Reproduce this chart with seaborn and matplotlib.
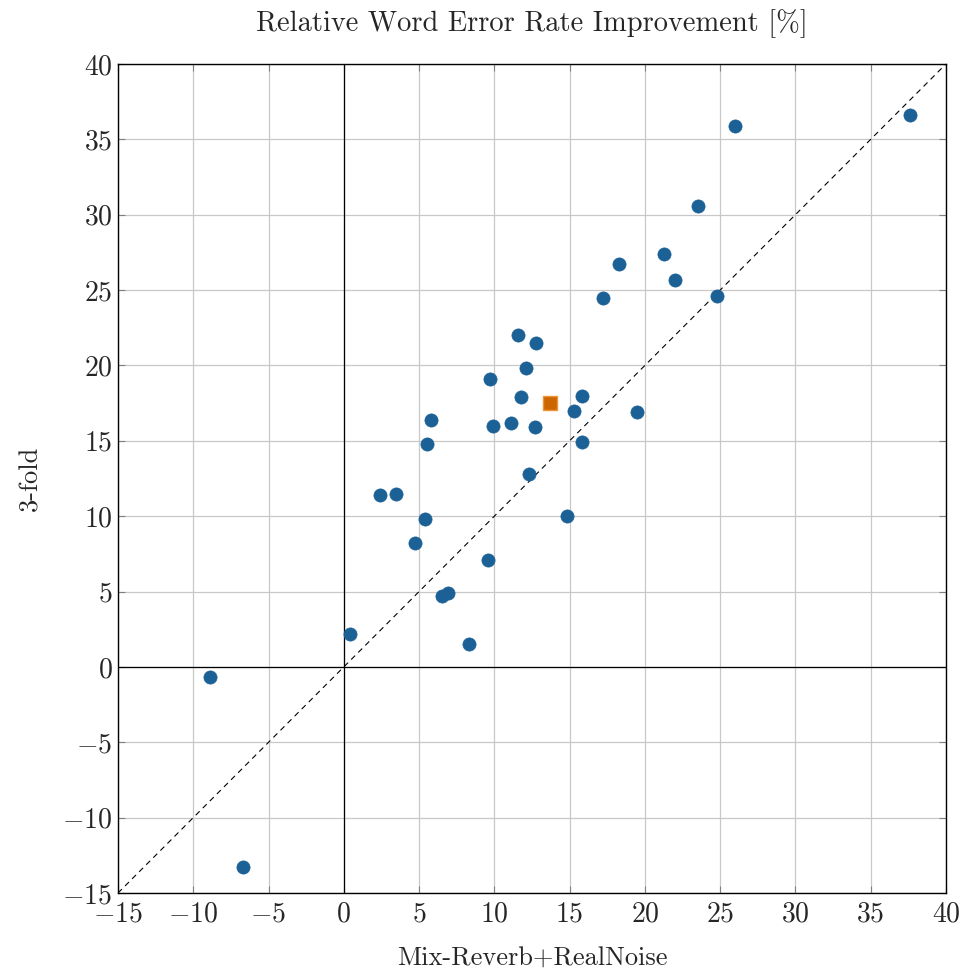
import matplotlib
matplotlib.use("Agg")
import matplotlib.pyplot as plt
import seaborn as sns
import pandas as pd

# relative WER improvement per test set [%]
mix_reverb = [-8.9, -6.7, 0.4, 2.4, 3.5, 4.7, 5.4, 5.5, 5.8, 6.5, 6.9, 8.3,
              9.6, 9.7, 9.9, 11.1, 11.6, 11.8, 12.1, 12.3, 12.7, 12.8, 14.8,
              15.3, 15.8, 15.8, 17.2, 18.3, 19.5, 21.3, 22.0, 23.5, 24.8,
              26.0, 37.6]
three_fold = [-0.7, -13.3, 2.2, 11.4, 11.5, 8.2, 9.8, 14.8, 16.4, 4.7, 4.9, 1.5,
              7.1, 19.1, 16.0, 16.2, 22.0, 17.9, 19.8, 12.8, 15.9, 21.5, 10.0,
              17.0, 18.0, 14.9, 24.5, 26.7, 16.9, 27.4, 25.7, 30.6, 24.6,
              35.9, 36.6]
avg_x = [13.7]
avg_y = [17.5]

ticks = [-15, -10, -5, 0, 5, 10, 15, 20, 25, 30, 35, 40]


def main():
    sns.set_style("whitegrid")
    plt.rcParams['font.family'] = ['cmr10']
    plt.rcParams['mathtext.fontset'] = 'cm'
    plt.rcParams['axes.formatter.use_mathtext'] = True
    plt.rcParams['font.size'] = 20

    points = pd.DataFrame({"x": mix_reverb, "y": three_fold})
    avg = pd.DataFrame({"x": avg_x, "y": avg_y})

    fig = plt.figure(figsize=(9.63, 9.71), dpi=100)
    ax = fig.add_axes([0.1225, 0.0803, 0.8598, 0.8538])

    ax.plot([-15, 40], [-15, 40], color="black", linestyle=(0, (5, 4)),
            linewidth=0.8, zorder=2)
    ax.axhline(0, color="black", linewidth=0.9, zorder=2)
    ax.axvline(0, color="black", linewidth=0.9, zorder=2)

    sns.scatterplot(x="x", y="y", data=points, color="#1b6196", s=90,
                    edgecolor="#1b6196", linewidth=0.5, zorder=3, ax=ax)
    sns.scatterplot(x="x", y="y", data=avg, color="#cc6600", marker="s",
                    s=95, edgecolor="#f0953a", linewidth=1.0, zorder=4, ax=ax)

    ax.set_xlim(-15, 40)
    ax.set_ylim(-15, 40)
    ax.set_xticks(ticks)
    ax.set_yticks(ticks)
    ax.grid(True, color="#c8c8c8", linewidth=0.9)
    ax.tick_params(axis='both', which='major', direction='in', length=5,
                   width=0.8, color="#808080", labelsize=20, pad=4,
                   top=True, right=True, bottom=True, left=True)
    ax.tick_params(axis='x', pad=6)
    for spine in ax.spines.values():
        spine.set_color("black")
        spine.set_linewidth(1.0)

    ax.set_title("Relative Word Error Rate Improvement [%]", fontsize=20.5, pad=24)
    ax.set_xlabel("Mix-Reverb+RealNoise", fontsize=19, labelpad=14)
    ax.set_ylabel("3-fold", fontsize=19, labelpad=14)

    plt.savefig("out.png", dpi=100)


if __name__ == "__main__":
    main()
